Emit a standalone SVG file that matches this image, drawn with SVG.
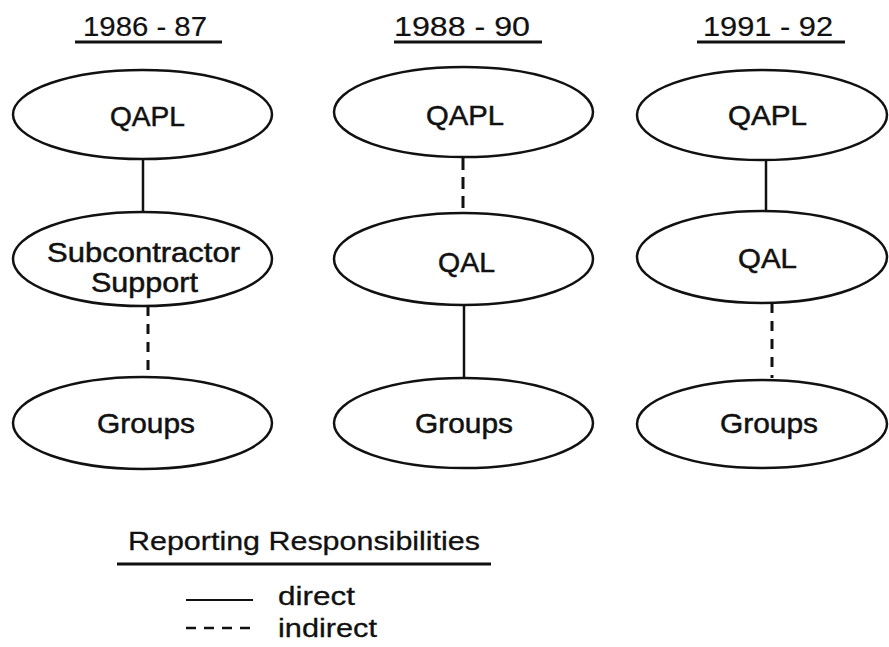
<svg xmlns="http://www.w3.org/2000/svg" width="889" height="647" viewBox="0 0 889 647">
<style>
  .node ellipse { fill: #ffffff; stroke: #111111; stroke-width: 2.5; }
  text { font-family: "Liberation Sans", Arial, sans-serif; fill: #111111; }
  .lbl { font-size: 28px; stroke: #111111; stroke-width: 0.5; }
  .hdr { font-size: 28px; stroke: #111111; stroke-width: 0.2; }
  .leg { font-size: 26px; stroke: #111111; stroke-width: 0.3; }
  .rule { stroke: #111111; stroke-width: 3; }
  .direct { stroke: #111111; stroke-width: 2.5; fill: none; }
  .indirect { stroke: #111111; stroke-width: 3; fill: none; stroke-dasharray: 10 8; }
</style>
<rect width="889" height="647" fill="#ffffff"/>

<g id="headers">
  <text class="hdr" x="83" y="36" textLength="124" lengthAdjust="spacingAndGlyphs">1986 - 87</text>
  <line class="rule" x1="75" y1="42" x2="222" y2="42"/>
  <text class="hdr" x="394" y="36" textLength="136" lengthAdjust="spacingAndGlyphs">1988 - 90</text>
  <line class="rule" x1="394" y1="42" x2="542" y2="42"/>
  <text class="hdr" x="703" y="36" textLength="130" lengthAdjust="spacingAndGlyphs">1991 - 92</text>
  <line class="rule" x1="697" y1="42" x2="845" y2="42"/>
</g>

<g id="connectors">
  <line class="direct" x1="143" y1="159" x2="143" y2="212"/>
  <line class="indirect" x1="148" y1="306" x2="148" y2="377"/>
  <line class="indirect" x1="463" y1="158" x2="463" y2="213" style="stroke-dasharray: 12 7"/>
  <line class="direct" x1="464" y1="305" x2="464" y2="378"/>
  <line class="direct" x1="766" y1="160" x2="766" y2="211"/>
  <line class="indirect" x1="772" y1="303" x2="772" y2="378"/>
</g>

<g id="n1-qapl" class="node">
  <ellipse cx="142.5" cy="114.5" rx="129.5" ry="44.5"/>
  <text class="lbl" x="110" y="126" textLength="75" lengthAdjust="spacingAndGlyphs">QAPL</text>
</g>
<g id="n1-sub" class="node">
  <ellipse cx="142.5" cy="259" rx="129.5" ry="47"/>
  <text class="lbl" x="47" y="262" textLength="193" lengthAdjust="spacingAndGlyphs">Subcontractor</text>
  <text class="lbl" x="91" y="292" textLength="107" lengthAdjust="spacingAndGlyphs">Support</text>
</g>
<g id="n1-groups" class="node">
  <ellipse cx="142.5" cy="423" rx="129.5" ry="46"/>
  <text class="lbl" x="97" y="433" textLength="98" lengthAdjust="spacingAndGlyphs">Groups</text>
</g>

<g id="n2-qapl" class="node">
  <ellipse cx="463.5" cy="112" rx="129.5" ry="45"/>
  <text class="lbl" x="426" y="125" textLength="78" lengthAdjust="spacingAndGlyphs">QAPL</text>
</g>
<g id="n2-qal" class="node">
  <ellipse cx="463.5" cy="259" rx="129.5" ry="46"/>
  <text class="lbl" x="438" y="272" textLength="57" lengthAdjust="spacingAndGlyphs">QAL</text>
</g>
<g id="n2-groups" class="node">
  <ellipse cx="463.5" cy="423" rx="129.5" ry="45"/>
  <text class="lbl" x="415" y="433" textLength="98" lengthAdjust="spacingAndGlyphs">Groups</text>
</g>

<g id="n3-qapl" class="node">
  <ellipse cx="762" cy="115" rx="125" ry="45"/>
  <text class="lbl" x="728" y="125" textLength="79" lengthAdjust="spacingAndGlyphs">QAPL</text>
</g>
<g id="n3-qal" class="node">
  <ellipse cx="762" cy="257" rx="125" ry="46"/>
  <text class="lbl" x="738" y="268" textLength="59" lengthAdjust="spacingAndGlyphs">QAL</text>
</g>
<g id="n3-groups" class="node">
  <ellipse cx="762" cy="424" rx="125" ry="44"/>
  <text class="lbl" x="720" y="433" textLength="98" lengthAdjust="spacingAndGlyphs">Groups</text>
</g>

<g id="legend">
  <text class="leg" x="128" y="550" textLength="352" lengthAdjust="spacingAndGlyphs">Reporting Responsibilities</text>
  <line class="rule" x1="117" y1="564" x2="491" y2="564"/>
  <line class="direct" x1="186" y1="600" x2="253" y2="600" style="stroke-width:2"/>
  <text class="leg" x="278" y="605" textLength="77" lengthAdjust="spacingAndGlyphs">direct</text>
  <line class="indirect" x1="186" y1="628" x2="253" y2="628" style="stroke-width:2.5; stroke-dasharray: 10 8"/>
  <text class="leg" x="278" y="637" textLength="99" lengthAdjust="spacingAndGlyphs">indirect</text>
</g>
</svg>
